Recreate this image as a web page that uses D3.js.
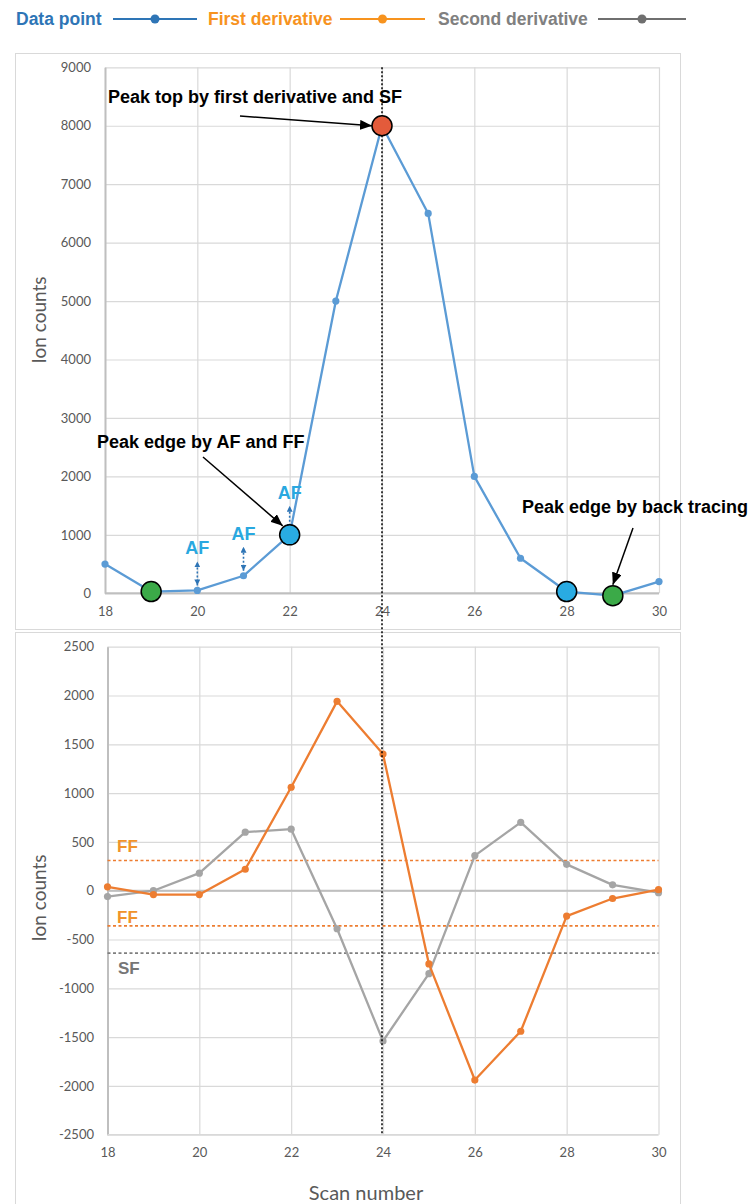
<!DOCTYPE html>
<html>
<head>
<meta charset="utf-8">
<script src="https://cdn.jsdelivr.net/npm/d3@7"></script>
<style>
  html, body { margin: 0; padding: 0; background: #fff; }
  svg { display: block; }
</style>
</head>
<body>
<svg id="chart" width="751" height="1204"></svg>
<script>
// ---- data ----
const scans = [18, 19, 20, 21, 22, 23, 24, 25, 26, 27, 28, 29, 30];
const ionCounts = [500, 30, 50, 300, 1000, 5000, 8000, 6500, 2000, 600, 30, -40, 200];
const firstDerivative = [40, -40, -40, 220, 1060, 1940, 1400, -750, -1940, -1440, -260, -80, 10];
const secondDerivative = [-60, 0, 180, 600, 630, -390, -1540, -850, 360, 700, 270, 60, -20];

const xTicks = [18, 20, 22, 24, 26, 28, 30];
const topYTicks = [0, 1000, 2000, 3000, 4000, 5000, 6000, 7000, 8000, 9000];
const bottomYTicks = [-2500, -2000, -1500, -1000, -500, 0, 500, 1000, 1500, 2000, 2500];

// filter thresholds on the derivative panel
const ffThresholds = [310, -360];
const sfThreshold = -640;

// highlighted scans
const peakTopScan = 24;
const afFfEdgeScans = [22, 28];
const backTraceScans = [19, 29];
const afScans = [20, 21, 22];

const legendItems = ["Data point", "First derivative", "Second derivative"];

// ---- styling ----
const C = {
  data: "#5B9BD5", first: "#ED7D31", second: "#A5A5A5",
  grid: "#D9D9D9", axis: "#BFBFBF", frame: "#D9D9D9", tick: "#595959",
  legendText: ["#2E75B6", "#F7931E", "#808080"],
  legendLine: ["#2E75B6", "#F7931E", "#6F6F6F"],
  peak: "#E35B3B", edge: "#29ABE2", back: "#3BAA48",
  af: "#29A8E0", afArrow: "#2E75B6", ffText: "#F0932B", sfLine: "#7F7F7F", sfText: "#767676"
};
const tickFont = "Lato, 'Open Sans', sans-serif";
const boldFont = "'Liberation Sans', Arial, sans-serif";
const plain = d => String(d);

const svg = d3.select("#chart");
const defs = svg.append("defs");

function arrowMarker(id, color, len, wid) {
  defs.append("marker")
    .attr("id", id).attr("markerUnits", "userSpaceOnUse")
    .attr("viewBox", `0 0 ${len} ${wid}`)
    .attr("refX", len).attr("refY", wid / 2)
    .attr("markerWidth", len).attr("markerHeight", wid)
    .attr("orient", "auto-start-reverse")
    .append("path").attr("d", `M0,0L${len},${wid / 2}L0,${wid}Z`).attr("fill", color);
}
arrowMarker("blackHead", "#000", 12, 10);
arrowMarker("blueHead", C.afArrow, 6, 6);

// ---- panels ----
const topPanel = { frame: [15, 53, 680, 629], x: [105, 659], y: [593.3, 67.3], domainY: [0, 9000] };
const botPanel = { frame: [15, 632, 680, 1215], x: [107.5, 658.5], y: [1134.7, 646.7], domainY: [-2500, 2500] };

const xTop = d3.scaleLinear().domain([18, 30]).range(topPanel.x);
const yTop = d3.scaleLinear().domain(topPanel.domainY).range(topPanel.y);
const xBot = d3.scaleLinear().domain([18, 30]).range(botPanel.x);
const yBot = d3.scaleLinear().domain(botPanel.domainY).range(botPanel.y);

function drawFrame(p) {
  const [x0, y0, x1, y1] = p.frame;
  svg.append("rect").attr("x", x0 + 0.5).attr("y", y0 + 0.5)
    .attr("width", x1 - x0).attr("height", y1 - y0)
    .attr("fill", "#fff").attr("stroke", C.frame).attr("stroke-width", 1);
}
drawFrame(topPanel);
drawFrame(botPanel);

function drawGridAndAxes(x, y, yTicks, zeroValue, leftPad) {
  const g = svg.append("g");
  // horizontal gridlines
  g.append("g").attr("transform", `translate(${x.range()[0]},0)`)
    .call(d3.axisLeft(y).tickValues(yTicks).tickSize(-(x.range()[1] - x.range()[0])).tickFormat(""))
    .call(s => s.select(".domain").remove())
    .call(s => s.selectAll("line").attr("stroke", C.grid).attr("stroke-width", 1.2));
  // vertical gridlines
  g.append("g").attr("transform", `translate(0,${y.range()[1]})`)
    .call(d3.axisBottom(x).tickValues(xTicks).tickSize(y.range()[0] - y.range()[1]).tickFormat(""))
    .call(s => s.select(".domain").remove())
    .call(s => s.selectAll("line").attr("stroke", C.grid).attr("stroke-width", 1.2));
  // y axis line + labels
  g.append("g").attr("transform", `translate(${x.range()[0]},0)`)
    .call(d3.axisLeft(y).tickValues(yTicks).tickSize(0).tickPadding(leftPad).tickFormat(plain))
    .call(s => s.select(".domain").attr("stroke", C.axis).attr("stroke-width", 2))
    .call(s => s.selectAll("text").attr("fill", C.tick).attr("font-family", tickFont).attr("font-size", 13));
  // zero line + x labels at the bottom of the plot
  g.append("line").attr("x1", x.range()[0]).attr("x2", x.range()[1])
    .attr("y1", y(zeroValue)).attr("y2", y(zeroValue))
    .attr("stroke", C.axis).attr("stroke-width", 2);
  g.append("g").attr("transform", `translate(0,${y.range()[0]})`)
    .call(d3.axisBottom(x).tickValues(xTicks).tickSize(0).tickPadding(13).tickFormat(plain))
    .call(s => s.select(".domain").remove())
    .call(s => s.selectAll("text").attr("fill", C.tick).attr("font-family", tickFont).attr("font-size", 13));
}
drawGridAndAxes(xTop, yTop, topYTicks, 0, 14);
drawGridAndAxes(xBot, yBot, bottomYTicks, 0, 13.5);

// bottom plot edge gridline
svg.append("line").attr("x1", xBot.range()[0]).attr("x2", xBot.range()[1])
  .attr("y1", yBot(-2500)).attr("y2", yBot(-2500)).attr("stroke", C.grid).attr("stroke-width", 1.2);

// axis titles
function yTitle(cx, cy, text) {
  svg.append("text").attr("transform", `translate(${cx},${cy}) rotate(-90)`)
    .attr("text-anchor", "middle").attr("dominant-baseline", "central")
    .attr("font-family", tickFont).attr("font-size", 19).attr("fill", C.tick).text(text);
}
yTitle(38, 320, "Ion counts");
yTitle(38, 898, "Ion counts");
svg.append("text").attr("x", 366).attr("y", 1200).attr("text-anchor", "middle")
  .attr("font-family", tickFont).attr("font-size", 20).attr("fill", C.tick).text("Scan number");

// ---- threshold lines on derivative panel ----
const ffLabelOffsets = [-8, -3];
ffThresholds.forEach((v, i) => {
  svg.append("line").attr("x1", xBot.range()[0]).attr("x2", xBot.range()[1])
    .attr("y1", yBot(v)).attr("y2", yBot(v))
    .attr("stroke", C.first).attr("stroke-width", 1.6).attr("stroke-dasharray", "3,2.5");
  svg.append("text").attr("x", 117).attr("y", yBot(v) + ffLabelOffsets[i])
    .attr("font-family", boldFont).attr("font-weight", "bold").attr("font-size", 17)
    .attr("fill", C.ffText).text("FF");
});
svg.append("line").attr("x1", xBot.range()[0]).attr("x2", xBot.range()[1])
  .attr("y1", yBot(sfThreshold)).attr("y2", yBot(sfThreshold))
  .attr("stroke", C.sfLine).attr("stroke-width", 1.6).attr("stroke-dasharray", "3,2.5");
svg.append("text").attr("x", 118).attr("y", yBot(sfThreshold) + 21)
  .attr("font-family", boldFont).attr("font-weight", "bold").attr("font-size", 17)
  .attr("fill", C.sfText).text("SF");

// ---- series ----
function drawSeries(x, y, values, color) {
  const pts = scans.map((s, i) => [s, values[i]]);
  svg.append("path").datum(pts)
    .attr("d", d3.line().x(d => x(d[0])).y(d => y(d[1])))
    .attr("fill", "none").attr("stroke", color).attr("stroke-width", 2.3).attr("stroke-linejoin", "round");
  svg.append("g").selectAll("circle").data(pts).join("circle")
    .attr("cx", d => x(d[0])).attr("cy", d => y(d[1])).attr("r", 3.6).attr("fill", color);
}
drawSeries(xBot, yBot, secondDerivative, C.second);
drawSeries(xBot, yBot, firstDerivative, C.first);
drawSeries(xTop, yTop, ionCounts, C.data);

// dotted vertical line through the peak top
svg.append("line").attr("x1", xTop(peakTopScan)).attr("x2", xTop(peakTopScan))
  .attr("y1", yTop(9000)).attr("y2", yBot(-2500))
  .attr("stroke", "#000").attr("stroke-width", 1.5).attr("stroke-dasharray", "2,2");

// ---- AF markers ----
afScans.forEach(s => {
  const v = ionCounts[scans.indexOf(s)];
  const cx = xTop(s), cy = yTop(v);
  svg.append("line").attr("x1", cx).attr("x2", cx).attr("y1", cy - 5).attr("y2", cy - 29)
    .attr("stroke", C.afArrow).attr("stroke-width", 1.6).attr("stroke-dasharray", "2,2")
    .attr("marker-start", "url(#blueHead)").attr("marker-end", "url(#blueHead)");
  svg.append("text").attr("x", cx).attr("y", cy - 36).attr("text-anchor", "middle")
    .attr("font-family", boldFont).attr("font-weight", "bold").attr("font-size", 18)
    .attr("fill", C.af).text("AF");
});

// ---- highlighted points ----
function bigDot(s, fill) {
  const v = ionCounts[scans.indexOf(s)];
  svg.append("circle").attr("cx", xTop(s)).attr("cy", yTop(v)).attr("r", 10)
    .attr("fill", fill).attr("stroke", "#000").attr("stroke-width", 1.5);
}
bigDot(peakTopScan, C.peak);
afFfEdgeScans.forEach(s => bigDot(s, C.edge));
backTraceScans.forEach(s => bigDot(s, C.back));

// ---- annotations ----
function annotate(text, tx, ty, from, toScan, dx, dy) {
  svg.append("text").attr("x", tx).attr("y", ty)
    .attr("font-family", boldFont).attr("font-weight", "bold").attr("font-size", 18)
    .attr("fill", "#000").text(text);
  const v = ionCounts[scans.indexOf(toScan)];
  svg.append("line").attr("x1", from[0]).attr("y1", from[1])
    .attr("x2", xTop(toScan) + dx).attr("y2", yTop(v) + dy)
    .attr("stroke", "#000").attr("stroke-width", 1.5).attr("marker-end", "url(#blackHead)");
}
annotate("Peak top by first derivative and SF", 108, 103, [240, 116], peakTopScan, -10, 0);
annotate("Peak edge by AF and FF", 97, 448, [203, 457], 22, -7, -9);
annotate("Peak edge by back tracing", 522, 513, [633, 528], 29, 0, -11);

// ---- legend ----
const legendX = [[16, 113, 197], [208, 340, 425], [438, 598, 686]];
legendItems.forEach((label, i) => {
  const [tx, l0, l1] = legendX[i];
  svg.append("text").attr("x", tx).attr("y", 25)
    .attr("font-family", boldFont).attr("font-weight", "bold").attr("font-size", 17.5)
    .attr("fill", C.legendText[i]).text(label);
  svg.append("line").attr("x1", l0).attr("x2", l1).attr("y1", 19).attr("y2", 19)
    .attr("stroke", C.legendLine[i]).attr("stroke-width", 2);
  svg.append("circle").attr("cx", (l0 + l1) / 2).attr("cy", 19).attr("r", 4.5).attr("fill", C.legendLine[i]);
});
</script>
</body>
</html>
